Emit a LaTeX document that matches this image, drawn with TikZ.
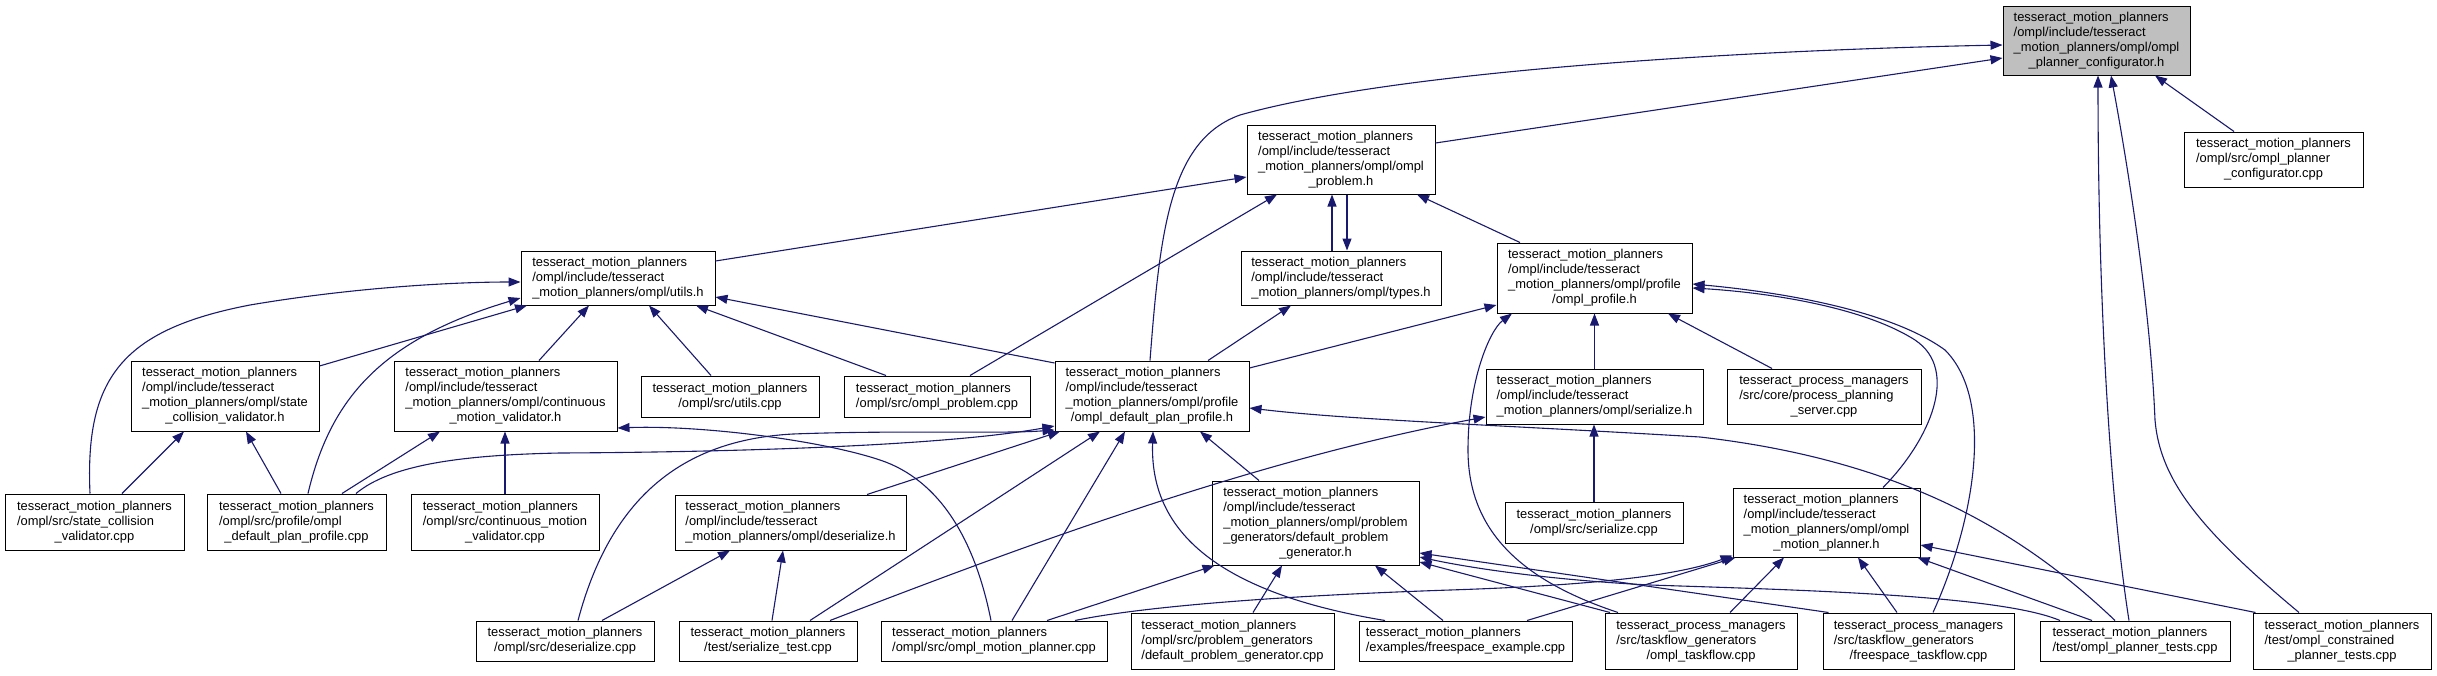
\documentclass[tikz,border=0pt]{standalone}
\usepackage{fontspec}
\setmainfont{Liberation Sans}
\usetikzlibrary{arrows.meta,calc}
\definecolor{edgeblue}{HTML}{191970}
\definecolor{rootgray}{HTML}{BFBFBF}
\newcommand{\lbl}[2]{\begin{tabular}{@{}l@{}}#1\\\multicolumn{1}{@{}c@{}}{#2}\end{tabular}}
\newcommand{\TMPn}{tesseract\_motion\_planners}
\newcommand{\TPMn}{tesseract\_process\_managers}
\newcommand{\INCn}{/ompl/include/tesseract}
\tikzset{
  box/.style={draw=black, line width=1pt, fill=white, inner sep=0pt, text=black,
    font=\fontsize{12.9pt}{15pt}\selectfont},
  dep/.style={draw=edgeblue, line width=1.1pt, -{Triangle[length=12pt,width=9pt]}}
}
\begin{document}
\begin{tikzpicture}[x=1pt,y=1pt]
\fill[white] (0,0) rectangle (2437,-675);
\useasboundingbox (0,0) rectangle (2437,-675);
% rank 1-2
\node[box,fill=rootgray,minimum width=187pt,minimum height=69pt] (A) at (2096.5,-40.5) {\lbl{\TMPn\\\INCn\\\_motion\_planners/ompl/ompl}{\_planner\_configurator.h}};
\node[box,minimum width=188pt,minimum height=69pt] (B) at (1341,-159.5) {\lbl{\TMPn\\\INCn\\\_motion\_planners/ompl/ompl}{\_problem.h}};
\node[box,minimum width=179pt,minimum height=55pt] (Q) at (2273.5,-159.5) {\lbl{\TMPn\\/ompl/src/ompl\_planner}{\_configurator.cpp}};
% rank 3
\node[box,minimum width=194pt,minimum height=54pt] (C) at (618,-278) {\lbl{\TMPn\\\INCn}{\_motion\_planners/ompl/utils.h}};
\node[box,minimum width=200pt,minimum height=54pt] (T) at (1341,-278) {\lbl{\TMPn\\\INCn}{\_motion\_planners/ompl/types.h}};
\node[box,minimum width=195pt,minimum height=70pt] (P) at (1594.5,-278) {\lbl{\TMPn\\\INCn\\\_motion\_planners/ompl/profile}{/ompl\_profile.h}};
% rank 4
\node[box,minimum width=188pt,minimum height=70pt] (D) at (225,-396) {\lbl{\TMPn\\\INCn\\\_motion\_planners/ompl/state}{\_collision\_validator.h}};
\node[box,minimum width=223pt,minimum height=70pt] (E) at (505.5,-396) {\lbl{\TMPn\\\INCn\\\_motion\_planners/ompl/continuous}{\_motion\_validator.h}};
\node[box,minimum width=178pt,minimum height=41pt] (U) at (730,-396.5) {\lbl{\TMPn}{/ompl/src/utils.cpp}};
\node[box,minimum width=186pt,minimum height=41pt] (R) at (937,-396.5) {\lbl{\TMPn}{/ompl/src/ompl\_problem.cpp}};
\node[box,minimum width=194pt,minimum height=70pt] (F) at (1152,-396) {\lbl{\TMPn\\\INCn\\\_motion\_planners/ompl/profile}{/ompl\_default\_plan\_profile.h}};
\node[box,minimum width=217pt,minimum height=55pt] (S) at (1594.5,-396.5) {\lbl{\TMPn\\\INCn}{\_motion\_planners/ompl/serialize.h}};
\node[box,minimum width=194pt,minimum height=55pt] (V) at (1824,-396.5) {\lbl{\TPMn\\/src/core/process\_planning}{\_server.cpp}};
% rank 5
\node[box,minimum width=179pt,minimum height=56pt] (D1) at (94.5,-522) {\lbl{\TMPn\\/ompl/src/state\_collision}{\_validator.cpp}};
\node[box,minimum width=179pt,minimum height=56pt] (D2) at (296.5,-522) {\lbl{\TMPn\\/ompl/src/profile/ompl}{\_default\_plan\_profile.cpp}};
\node[box,minimum width=188pt,minimum height=56pt] (E1) at (505,-522) {\lbl{\TMPn\\/ompl/src/continuous\_motion}{\_validator.cpp}};
\node[box,minimum width=231pt,minimum height=55pt] (X) at (790.5,-522.5) {\lbl{\TMPn\\\INCn}{\_motion\_planners/ompl/deserialize.h}};
\node[box,minimum width=207pt,minimum height=84pt] (G) at (1315.5,-523) {\lbl{\TMPn\\\INCn\\\_motion\_planners/ompl/problem\\\_generators/default\_problem}{\_generator.h}};
\node[box,minimum width=178pt,minimum height=41pt] (S1) at (1594,-522.5) {\lbl{\TMPn}{/ompl/src/serialize.cpp}};
\node[box,minimum width=187pt,minimum height=69pt] (H) at (1826.5,-522.5) {\lbl{\TMPn\\\INCn\\\_motion\_planners/ompl/ompl}{\_motion\_planner.h}};
% rank 6
\node[box,minimum width=178pt,minimum height=40pt] (X1) at (565,-641) {\lbl{\TMPn}{/ompl/src/deserialize.cpp}};
\node[box,minimum width=178pt,minimum height=40pt] (X2) at (768,-641) {\lbl{\TMPn}{/test/serialize\_test.cpp}};
\node[box,minimum width=226pt,minimum height=40pt] (M) at (994,-641) {\lbl{\TMPn}{/ompl/src/ompl\_motion\_planner.cpp}};
\node[box,minimum width=203pt,minimum height=56pt] (G1) at (1232.5,-641) {\lbl{\TMPn\\/ompl/src/problem\_generators}{/default\_problem\_generator.cpp}};
\node[box,minimum width=213pt,minimum height=40pt] (W) at (1465.5,-641) {\lbl{\TMPn}{/examples/freespace\_example.cpp}};
\node[box,minimum width=192pt,minimum height=56pt] (K1) at (1701,-641) {\lbl{\TPMn\\/src/taskflow\_generators}{/ompl\_taskflow.cpp}};
\node[box,minimum width=191pt,minimum height=56pt] (K2) at (1918.5,-641) {\lbl{\TPMn\\/src/taskflow\_generators}{/freespace\_taskflow.cpp}};
\node[box,minimum width=190pt,minimum height=40pt] (Z1) at (2135,-641) {\lbl{\TMPn}{/test/ompl\_planner\_tests.cpp}};
\node[box,minimum width=178pt,minimum height=56pt] (Z2) at (2342,-641) {\lbl{\TMPn\\/test/ompl\_constrained}{\_planner\_tests.cpp}};
% edges
\draw[dep] ([yshift=16.5pt]B.east) -- ([yshift=-17.5pt]A.west);
\draw[dep] ([xshift=-2pt]F.north) .. controls (1160,-230) and (1170,-140) .. (1240,-115) .. controls (1400,-70) and (1750,-50) .. ([yshift=-4.5pt]A.west);
\draw[dep] ([xshift=-39.5pt]Q.north) -- ([xshift=58.5pt]A.south);
\draw[dep] ([xshift=-6pt]Z1.north) .. controls (2110,-500) and (2098,-300) .. ([xshift=1.5pt]A.south);
\draw[dep] ([xshift=-43pt]Z2.north) .. controls (2200,-530) and (2160,-480) .. (2155,-420) .. controls (2150,-300) and (2125,-150) .. ([xshift=14.5pt]A.south);
\draw[dep] ([yshift=17pt]C.east) -- ([yshift=-17.5pt]B.west);
\draw[dep] ([xshift=-9pt]T.north) -- ([xshift=-9pt]B.south);
\draw[dep] ([xshift=6pt]B.south) -- ([xshift=6pt]T.north);
\draw[dep] ([xshift=33pt]R.north) -- ([xshift=-64pt]B.south);
\draw[dep] ([xshift=-74.5pt]P.north) -- ([xshift=76pt]B.south);
\draw[dep] ([yshift=30pt]D.east) -- ([xshift=-91pt]C.south);
\draw[dep] ([xshift=11.5pt]D2.north) .. controls (330,-400) and (380,-340) .. ([yshift=-20pt]C.west);
\draw[dep] ([xshift=-4.5pt]D1.north) .. controls (85,-380) and (120,-330) .. (250,-305) .. controls (350,-288) and (450,-282) .. ([yshift=-4pt]C.west);
\draw[dep] ([xshift=33.5pt]E.north) -- ([xshift=-29pt]C.south);
\draw[dep] ([xshift=-19pt]U.north) -- ([xshift=31pt]C.south);
\draw[dep] ([xshift=-51pt]R.north) -- ([xshift=78pt]C.south);
\draw[dep] ([yshift=33pt]F.west) -- ([yshift=-19pt]C.east);
\draw[dep] ([xshift=27.5pt]D1.north) -- ([xshift=-41pt]D.south);
\draw[dep] ([xshift=-15.5pt]D2.north) -- ([xshift=21pt]D.south);
\draw[dep] ([xshift=45.5pt]D2.north) -- ([xshift=-65.5pt]E.south);
\draw[dep] (E1.north) -- (E1.north |- E.south);
\draw[dep] ([xshift=-3pt]M.north) .. controls (975,-540) and (940,-480) .. (880,-460) .. controls (820,-440) and (700,-425) .. ([yshift=-32pt]E.east);
\draw[dep] ([xshift=59.5pt]D2.north) .. controls (390,-465) and (460,-455) .. (560,-453) .. controls (750,-452) and (950,-445) .. ([yshift=-30pt]F.west);
\draw[dep] ([xshift=13pt]X1.north) .. controls (610,-500) and (680,-440) .. (793,-434) .. controls (900,-430) and (1000,-434) .. ([yshift=-34pt]F.west);
\draw[dep] ([xshift=76.5pt]X.north) -- ([xshift=-92pt]F.south);
\draw[dep] ([xshift=42pt]X2.north) -- ([xshift=-52pt]F.south);
\draw[dep] ([xshift=18pt]M.north) -- ([xshift=-27pt]F.south);
\draw[dep] ([xshift=-80.5pt]W.north) .. controls (1200,-590) and (1150,-520) .. ([xshift=1pt]F.south);
\draw[dep] ([xshift=-56.5pt]G.north) -- ([xshift=48pt]F.south);
\draw[dep] ([xshift=-20pt]Z1.north) .. controls (2020,-530) and (1900,-460) .. (1700,-437) .. controls (1500,-425) and (1350,-420) .. ([yshift=-12pt]F.east);
\draw[dep] ([yshift=28pt]F.east) -- ([yshift=-27pt]P.west);
\draw[dep] ([xshift=56pt]F.north) -- ([xshift=-50pt]T.south);
\draw[dep] (S.north) -- (S.north |- P.south);
\draw[dep] ([xshift=-52pt]V.north) -- ([xshift=73.5pt]P.south);
\draw[dep] ([xshift=-83pt]K1.north) .. controls (1520,-580) and (1468,-530) .. (1468,-450) .. controls (1468,-380) and (1490,-330) .. ([xshift=-82.5pt]P.south);
\draw[dep] ([xshift=56.5pt]H.north) .. controls (1930,-440) and (1960,-370) .. (1915,-340) .. controls (1860,-305) and (1760,-292) .. ([yshift=-10pt]P.east);
\draw[dep] ([xshift=14.5pt]K2.north) .. controls (1975,-520) and (1995,-400) .. (1945,-350) .. controls (1890,-310) and (1780,-292) .. ([yshift=-6pt]P.east);
\draw[dep] ([xshift=37pt]X1.north) -- ([xshift=-60.5pt]X.south);
\draw[dep] ([xshift=4pt]X2.north) -- ([xshift=-7.5pt]X.south);
\draw[dep] ([xshift=62pt]X2.north) .. controls (1000,-555) and (1250,-460) .. ([yshift=-20.5pt]S.west);
\draw[dep] (S1.north) -- (S1.north |- S.south);
\draw[dep] ([xshift=20.5pt]G1.north) -- ([xshift=-33.5pt]G.south);
\draw[dep] ([xshift=53pt]M.north) -- ([xshift=3pt]G.south west);
\draw[dep] ([xshift=-22.5pt]W.north) -- ([xshift=59.5pt]G.south);
\draw[dep] ([xshift=-91pt]K1.north) -- ([yshift=-39pt]G.east);
\draw[dep] ([xshift=-90pt]K2.north) -- ([yshift=-30pt]G.east);
\draw[dep] ([xshift=-75pt]Z1.north) .. controls (2000,-595) and (1800,-590) .. (1650,-585) .. controls (1550,-580) and (1470,-568) .. ([yshift=-34pt]G.east);
\draw[dep] ([xshift=81pt]M.north) .. controls (1150,-605) and (1300,-595) .. (1450,-590) .. controls (1600,-585) and (1680,-575) .. ([yshift=2pt]H.south west);
\draw[dep] ([xshift=61.5pt]W.north) -- ([xshift=3pt]H.south west);
\draw[dep] ([xshift=29pt]K1.north) -- ([xshift=-42.5pt]H.south);
\draw[dep] ([xshift=-21.5pt]K2.north) -- ([xshift=31.5pt]H.south);
\draw[dep] ([xshift=-43pt]Z1.north) -- ([xshift=-3pt]H.south east);
\draw[dep] ([xshift=3pt]Z2.north west) -- ([yshift=-22.5pt]H.east);
\end{tikzpicture}
\end{document}
